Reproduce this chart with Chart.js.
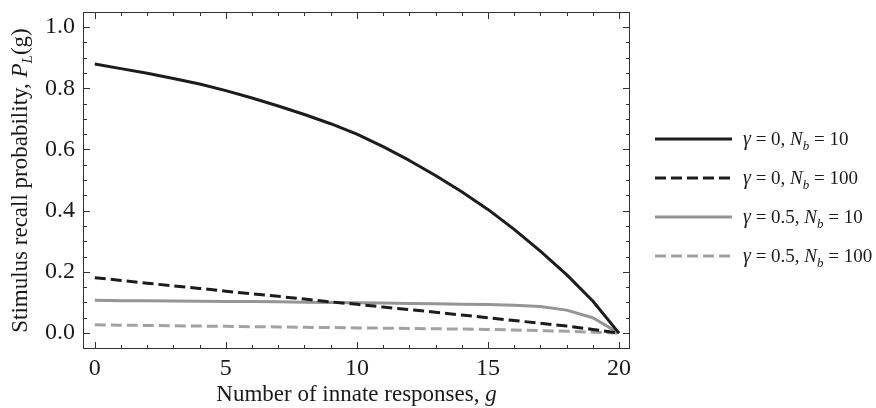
<!DOCTYPE html>
<html>
<head>
<meta charset="utf-8" />
<title>Stimulus recall probability</title>
<script src="https://cdn.jsdelivr.net/npm/chart.js"></script>
<style>
  body, html { margin: 0; padding: 0; background-color: #ffffff; }
  #wrap { width: 876px; height: 408px; }
</style>
</head>
<body>
<div id="wrap"><canvas id="myChart"></canvas></div>
<script>
// number of innate responses g
const g = [0, 1, 2, 3, 4, 5, 6, 7, 8, 9, 10, 11, 12, 13, 14, 15, 16, 17, 18, 19, 20];

// gamma = 0, Nb = 10
const gamma0Nb10 = [0.879, 0.864, 0.849, 0.832, 0.814, 0.792, 0.768, 0.742, 0.714, 0.684, 0.650,
  0.609, 0.564, 0.515, 0.462, 0.404, 0.339, 0.268, 0.191, 0.105, 0.0];
// gamma = 0, Nb = 100
const gamma0Nb100 = [0.181, 0.172, 0.163, 0.154, 0.146, 0.137, 0.128, 0.120, 0.111, 0.102, 0.094,
  0.085, 0.077, 0.068, 0.059, 0.050, 0.041, 0.032, 0.023, 0.012, 0.0];
// gamma = 0.5, Nb = 10
const gamma05Nb10 = [0.107, 0.106, 0.106, 0.105, 0.104, 0.103, 0.103, 0.102, 0.101, 0.100, 0.099,
  0.098, 0.097, 0.096, 0.094, 0.093, 0.091, 0.087, 0.075, 0.050, 0.0];
// gamma = 0.5, Nb = 100
const gamma05Nb100 = [0.027, 0.026, 0.025, 0.024, 0.023, 0.022, 0.021, 0.020, 0.019, 0.018, 0.017,
  0.016, 0.015, 0.014, 0.013, 0.012, 0.010, 0.008, 0.006, 0.003, 0.0];

const xTicks = [0, 5, 10, 15, 20];
const yTicks = [0.0, 0.2, 0.4, 0.6, 0.8, 1.0];
const gammaLabels = ['0', '0', '0.5', '0.5'];
const nbLabels = ['10', '100', '10', '100'];

const serif = "'Liberation Serif', 'DejaVu Serif', serif";
const BLACK = '#1c1c1c';
const GRAY = '#959595';
const GRAY_DASH = '#a2a2a2';

function pts(ys) {
  return g.map((v, i) => ({ x: v, y: ys[i] }));
}

// draws a run of text pieces with their own fonts and baseline shifts
function richText(ctx, parts, x, y) {
  let cx = x;
  parts.forEach(p => {
    ctx.font = p.font;
    ctx.fillText(p.t, cx, y + (p.dy || 0));
    cx += ctx.measureText(p.t).width;
  });
  return cx - x;
}
function richWidth(ctx, parts) {
  let w = 0;
  parts.forEach(p => { ctx.font = p.font; w += ctx.measureText(p.t).width; });
  return w;
}

const framePlugin = {
  id: 'frame',
  afterDatasetsDraw(chart) {
    const { ctx, chartArea: a, scales: { x, y } } = chart;
    ctx.save();
    ctx.strokeStyle = '#333333';
    ctx.lineWidth = 1;
    ctx.strokeRect(a.left + 0.5, a.top + 0.5, a.right - a.left - 1, a.bottom - a.top - 1);
    ctx.beginPath();
    for (let v = 0; v <= 20; v++) {
      const px = Math.round(x.getPixelForValue(v)) + 0.5;
      const len = xTicks.includes(v) ? 7 : 4;
      ctx.moveTo(px, a.bottom); ctx.lineTo(px, a.bottom - len);
      ctx.moveTo(px, a.top); ctx.lineTo(px, a.top + len);
    }
    for (let k = 0; k <= 20; k++) {
      const v = k * 0.05;
      const py = Math.round(y.getPixelForValue(v)) + 0.5;
      const len = k % 4 === 0 ? 7 : 4;
      ctx.moveTo(a.left, py); ctx.lineTo(a.left + len, py);
      ctx.moveTo(a.right, py); ctx.lineTo(a.right - len, py);
    }
    ctx.stroke();
    ctx.restore();
  },
  afterDraw(chart) {
    const { ctx, chartArea: a } = chart;
    ctx.save();
    ctx.fillStyle = '#1a1a1a';
    ctx.textBaseline = 'alphabetic';

    // x axis title
    const xParts = [
      { t: 'Number of innate responses, ', font: '23px ' + serif },
      { t: 'g', font: 'italic 23px ' + serif }
    ];
    const xw = richWidth(ctx, xParts);
    richText(ctx, xParts, (a.left + a.right) / 2 - xw / 2, 401);

    // y axis title (rotated)
    const yParts = [
      { t: 'Stimulus recall probability, ', font: '23px ' + serif },
      { t: 'P', font: 'italic 23px ' + serif },
      { t: 'L', font: 'italic 15px ' + serif, dy: 5 },
      { t: '(g)', font: '23px ' + serif }
    ];
    const yw = richWidth(ctx, yParts);
    ctx.save();
    ctx.translate(27, (a.top + a.bottom) / 2);
    ctx.rotate(-Math.PI / 2);
    richText(ctx, yParts, -yw / 2, 0);
    ctx.restore();

    // legend
    const styles = [
      { c: BLACK, dash: [] },
      { c: BLACK, dash: [11, 5] },
      { c: GRAY, dash: [] },
      { c: GRAY_DASH, dash: [11, 5] }
    ];
    const lx = a.right + 25;
    for (let i = 0; i < 4; i++) {
      const ly = 139 + i * 39;
      ctx.strokeStyle = styles[i].c;
      ctx.lineWidth = 3;
      ctx.setLineDash(styles[i].dash);
      ctx.beginPath();
      ctx.moveTo(lx, ly); ctx.lineTo(lx + 77, ly);
      ctx.stroke();
      ctx.setLineDash([]);
      ctx.fillStyle = '#1a1a1a';
      richText(ctx, [
        { t: 'γ', font: 'italic 20px ' + serif },
        { t: ' = ' + gammaLabels[i] + ', ', font: '19px ' + serif },
        { t: 'N', font: 'italic 19px ' + serif },
        { t: 'b', font: 'italic 13px ' + serif, dy: 5 },
        { t: ' = ' + nbLabels[i], font: '19px ' + serif }
      ], lx + 88, ly + 6);
    }
    ctx.restore();
  }
};

const ctx = document.getElementById('myChart').getContext('2d');
new Chart(ctx, {
  type: 'line',
  data: {
    datasets: [
      { label: 'γ = 0, Nb = 10', data: pts(gamma0Nb10), borderColor: BLACK, borderWidth: 3 },
      { label: 'γ = 0, Nb = 100', data: pts(gamma0Nb100), borderColor: BLACK, borderWidth: 3, borderDash: [11, 5] },
      { label: 'γ = 0.5, Nb = 10', data: pts(gamma05Nb10), borderColor: GRAY, borderWidth: 3 },
      { label: 'γ = 0.5, Nb = 100', data: pts(gamma05Nb100), borderColor: GRAY_DASH, borderWidth: 3, borderDash: [11, 5] }
    ]
  },
  options: {
    responsive: true,
    maintainAspectRatio: false,
    animation: false,
    layout: { padding: { top: 12, right: 246, left: 0, bottom: 0 } },
    elements: {
      point: { radius: 0, hoverRadius: 0 },
      line: { tension: 0, fill: false, borderCapStyle: 'butt', borderJoinStyle: 'round' }
    },
    scales: {
      x: {
        type: 'linear',
        min: -0.45,
        max: 20.42,
        afterBuildTicks: s => { s.ticks = xTicks.map(v => ({ value: v })); },
        afterFit: s => { s.height = 59; s.paddingLeft = 0; s.paddingRight = 0; },
        grid: { display: false, drawTicks: false },
        border: { display: false },
        ticks: {
          color: '#1a1a1a',
          padding: 5,
          maxRotation: 0,
          font: { family: serif, size: 24 }
        }
      },
      y: {
        min: -0.052,
        max: 1.049,
        afterBuildTicks: s => { s.ticks = yTicks.map(v => ({ value: v })); },
        afterFit: s => { s.width = 83; s.paddingTop = 0; s.paddingBottom = 0; },
        grid: { display: false, drawTicks: false },
        border: { display: false },
        ticks: {
          color: '#1a1a1a',
          padding: 8,
          font: { family: serif, size: 24 },
          callback: v => v.toFixed(1)
        }
      }
    },
    plugins: {
      legend: { display: false },
      tooltip: { enabled: false }
    }
  },
  plugins: [framePlugin]
});
</script>
</body>
</html>
